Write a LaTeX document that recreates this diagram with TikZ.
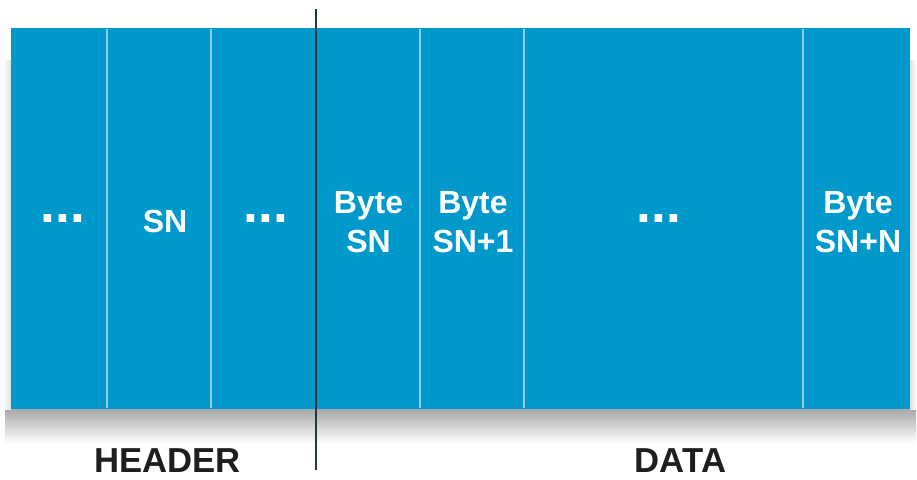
\documentclass[tikz,border=0pt]{standalone}
\usepackage{fontspec}
\setmainfont{Liberation Sans}
\definecolor{bandblue}{HTML}{0099CC}
\definecolor{divline}{HTML}{8CCFEF}
\definecolor{markline}{HTML}{25383F}
\definecolor{labeltext}{HTML}{1E1E1E}
\begin{document}
\begin{tikzpicture}[x=0.75pt,y=-0.75pt,
  celltext/.style={text=white,font=\bfseries\fontsize{24}{29}\selectfont,inner sep=0pt,anchor=base},
  dottext/.style={text=white,font=\bfseries\fontsize{40}{48}\selectfont,inner sep=0pt,anchor=base},
  sectiontext/.style={text=labeltext,font=\bfseries\fontsize{26}{31}\selectfont,inner sep=0pt,anchor=base},
  divider/.style={draw=divline,line width=1.5pt},
  marker/.style={draw=markline,line width=1.6pt}]
\useasboundingbox (0,0) rectangle (917,479);
% soft drop shadow under the band
\shade[top color=black!34,bottom color=white] (5,409) rectangle (916,444);
\shade[left color=white,right color=black!12] (3,60) rectangle (11,409);
\shade[left color=black!12,right color=white] (910,60) rectangle (916,409);
% the band of fields
\fill[bandblue] (11,28) rectangle (910,409);
\foreach \x in {107,211,420,524,803}
  \draw[divider] (\x,29) -- (\x,408);
% header / data boundary
\coordinate (marktop) at (316,9);
\coordinate (markbot) at (316,470);
\draw[marker] (marktop) -- (markbot);
% field labels
\node[dottext] (dotsA) at (63,222) {...};
\node[celltext] (sn) at (165,232) {SN};
\node[dottext] (dotsB) at (266,222) {...};
\node[celltext] (byteA) at (368.5,213) {Byte};
\node[celltext] (snA) at (368.5,252) {SN};
\node[celltext] (byteB) at (473,213) {Byte};
\node[celltext] (snB) at (473,252) {SN+1};
\node[dottext] (dotsC) at (659,222) {...};
\node[celltext] (byteN) at (858,213) {Byte};
\node[celltext] (snN) at (858,252) {SN+N};
% section names
\node[sectiontext] (header) at (167.5,472) {HEADER};
\node[sectiontext] (data) at (680.5,472) {DATA};
\end{tikzpicture}
\end{document}
